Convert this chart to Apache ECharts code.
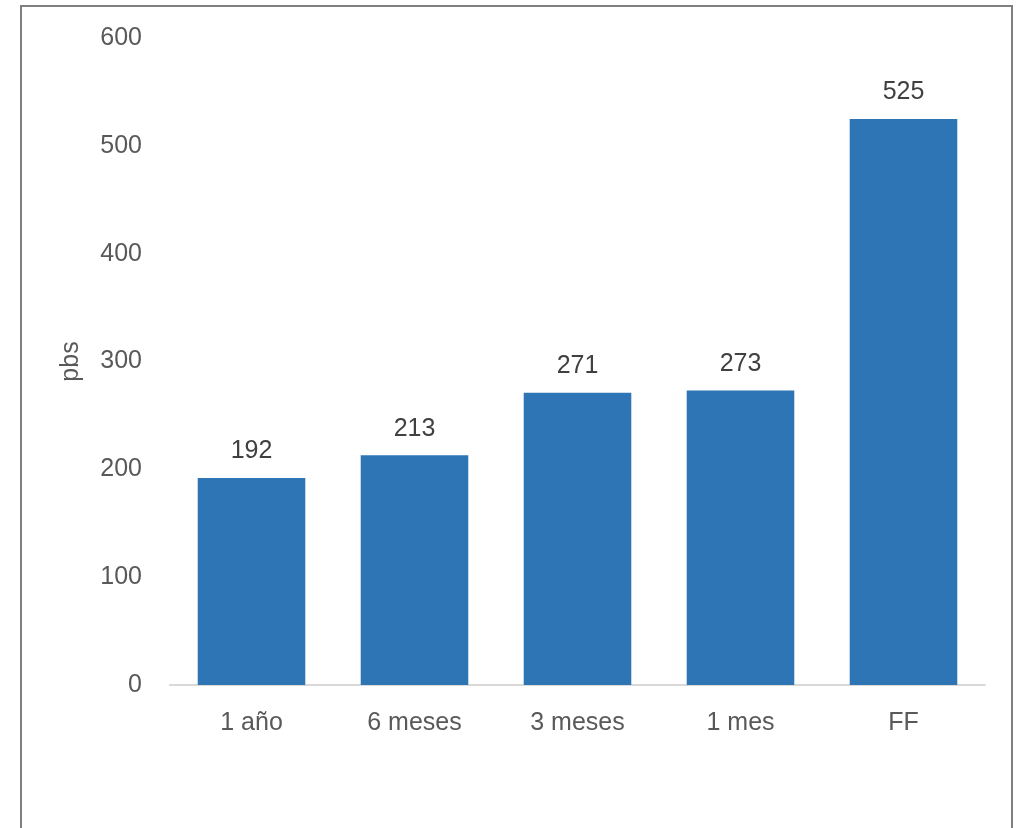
<!DOCTYPE html>
<html><head><meta charset="utf-8">
<script src="https://cdn.jsdelivr.net/npm/echarts@6/dist/echarts.min.js"></script>
<style>html,body{margin:0;padding:0;background:#fff}#c{width:1018px;height:828px}</style>
</head><body><div id="c"></div>
<script>
const categories = ['1 año', '6 meses', '3 meses', '1 mes', 'FF'];
const values = [192, 213, 271, 273, 525];
const yTicks = [0, 100, 200, 300, 400, 500, 600];
const chart = echarts.init(document.getElementById('c'), null, {renderer: 'canvas'});
const font = '"Liberation Sans", Arial, sans-serif';
chart.setOption({
  animation: false,
  backgroundColor: '#fff',
  graphic: [{type: 'rect', shape: {x: 21, y: 6, width: 991, height: 900}, style: {fill: 'none', stroke: '#7f7f7f', lineWidth: 2}, silent: true}],
  grid: {left: 170, right: 33, top: 38, bottom: 143, containLabel: false},
  xAxis: {
    type: 'category', data: categories,
    axisLine: {lineStyle: {color: '#d9d9d9', width: 2}},
    axisTick: {show: false},
    axisLabel: {color: '#595959', fontSize: 25, fontFamily: font, margin: 26}
  },
  yAxis: {
    type: 'value', min: yTicks[0], max: yTicks[yTicks.length - 1], interval: 100,
    name: 'pbs', nameLocation: 'middle', nameGap: 86, nameRotate: 90,
    nameTextStyle: {color: '#595959', fontSize: 25, fontFamily: font},
    axisLine: {show: false}, axisTick: {show: false}, splitLine: {show: false},
    axisLabel: {color: '#595959', fontSize: 25, fontFamily: font, margin: 28, padding: [5, 0, 0, 0]}
  },
  series: [{
    type: 'bar', data: values, barCategoryGap: '34%',
    itemStyle: {color: '#2e75b6'},
    label: {show: true, position: 'top', distance: 14, color: '#404040', fontSize: 25, fontFamily: font}
  }]
});
</script></body></html>
